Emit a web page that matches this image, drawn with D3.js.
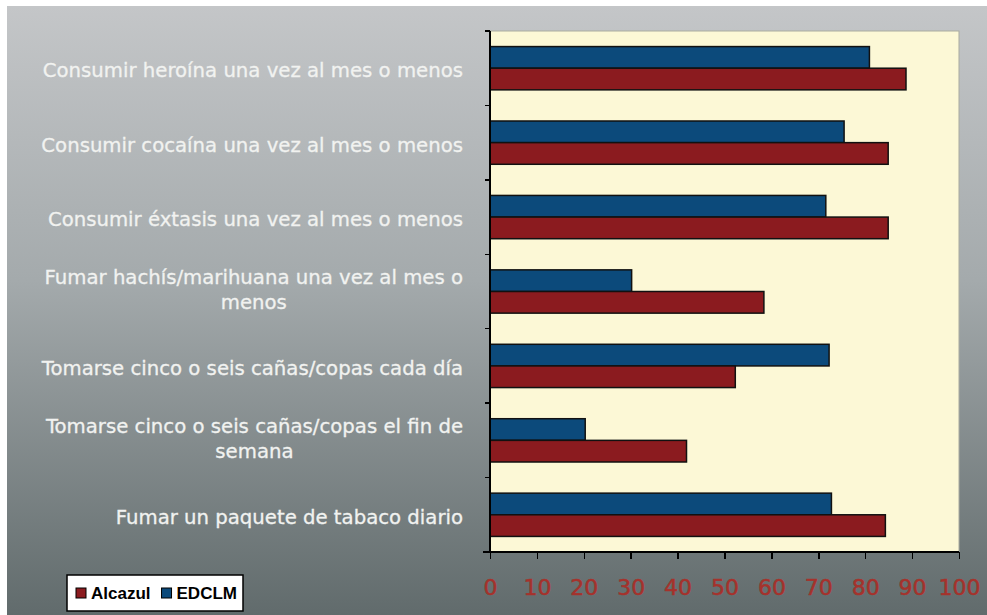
<!doctype html>
<html>
<head>
<meta charset="utf-8"/>
<style>
    html, body { margin: 0; padding: 0; background: #fff; }
    svg { display: block; }
    .cat text { font-family: "DejaVu Sans", sans-serif; font-size: 19.7px; fill: #f1f2f0; stroke: #f1f2f0; stroke-width: 0.3px; }
    .axis--x text { font-family: "DejaVu Sans", sans-serif; font-size: 22px; fill: #a5322c; stroke: #a5322c; stroke-width: 0.5px; }
    .axis path, .axis line { stroke: #000; stroke-width: 1.5; shape-rendering: crispEdges; }
    .legend text { font-family: "Liberation Sans", Arial, sans-serif; font-weight: bold; font-size: 17px; fill: #000; }
</style>
<script src="https://cdn.jsdelivr.net/npm/d3@7"></script>
</head>
<body>
<svg width="987" height="615"></svg>
<script>

var categories = [
    "Consumir heroína una vez al mes o menos",
    "Consumir cocaína una vez al mes o menos",
    "Consumir éxtasis una vez al mes o menos",
    "Fumar hachís/marihuana una vez al mes o\nmenos",
    "Tomarse cinco o seis cañas/copas cada día",
    "Tomarse cinco o seis cañas/copas el fin de\nsemana",
    "Fumar un paquete de tabaco diario"
];
var edclm   = [80.9, 75.5, 71.6, 30.2, 72.3, 20.3, 72.8];
var alcazul = [88.7, 84.9, 84.9, 58.4, 52.3, 41.9, 84.3];
var xTicks  = [0, 10, 20, 30, 40, 50, 60, 70, 80, 90, 100];
var seriesNames = ["Alcazul", "EDCLM"];
var seriesColors = { Alcazul: "#8b1b1f", EDCLM: "#0c4a7b" };

(function() {
var svg = d3.select("svg");

// background gradient
var defs = svg.append("defs");
var grad = defs.append("linearGradient").attr("id", "bg")
    .attr("x1", 0).attr("y1", 0).attr("x2", 0).attr("y2", 1);
grad.append("stop").attr("offset", "0%").attr("stop-color", "#c4c6c8");
grad.append("stop").attr("offset", "45%").attr("stop-color", "#a4aaac");
grad.append("stop").attr("offset", "100%").attr("stop-color", "#616b6c");

svg.append("rect").attr("x", 7).attr("y", 6).attr("width", 980).attr("height", 609)
    .attr("fill", "url(#bg)");

var pl = 490, pr = 959, pt = 31, pb = 552;

var x = d3.scaleLinear().domain([0, 100]).range([pl, pr]);
var y = d3.scaleBand().domain(d3.range(categories.length)).range([pt, pb]);
var inner = d3.scaleBand().domain(["EDCLM", "Alcazul"])
    .range([0, y.bandwidth()]).paddingOuter(0.72).paddingInner(0);

// plot area
svg.append("rect").attr("x", pl).attr("y", pt)
    .attr("width", pr - pl).attr("height", pb - pt)
    .attr("fill", "#fcf8d6").attr("stroke", "#a9aba0").attr("stroke-width", 1);

var g = svg.append("g");

var rows = categories.map(function(c, i) {
    return { i: i, EDCLM: edclm[i], Alcazul: alcazul[i] };
});

["EDCLM", "Alcazul"].forEach(function(s) {
    g.selectAll(".bar-" + s).data(rows).enter().append("rect")
        .attr("class", "bar-" + s)
        .attr("x", x(0))
        .attr("y", function(d) { return y(d.i) + inner(s); })
        .attr("width", function(d) { return x(d[s]) - x(0); })
        .attr("height", inner.bandwidth())
        .attr("fill", seriesColors[s])
        .attr("stroke", "#111")
        .attr("stroke-width", 1.5);
});

// y axis: ticks at band boundaries
var yEdges = d3.range(categories.length + 1).map(function(i) { return pt + i * y.step(); });
var ya = svg.append("g").attr("class", "axis axis--y");
ya.append("line").attr("x1", pl).attr("x2", pl).attr("y1", pt).attr("y2", pb);
ya.selectAll(".t").data(yEdges).enter().append("line")
    .attr("x1", pl - 5).attr("x2", pl).attr("y1", function(d) { return d; }).attr("y2", function(d) { return d; });

// x axis
var xa = svg.append("g").attr("class", "axis axis--x")
    .attr("transform", "translate(0," + pb + ")")
    .call(d3.axisBottom(x).tickValues(xTicks).tickSize(7).tickPadding(20).tickSizeOuter(0));
xa.select(".domain").attr("d", "M" + (pl - 7) + ",0H" + pr);

// category labels
var cat = svg.append("g").attr("class", "cat");
var lh = 25;
categories.forEach(function(c, i) {
    var lines = c.split("\n");
    var cy = y(i) + y.bandwidth() / 2;
    var t = cat.append("text")
        .attr("text-anchor", "end")
        .attr("x", 463)
        .attr("y", lines.length > 1 ? cy - 7.5 : cy + 9);
    lines.forEach(function(l, k) {
        t.append("tspan").attr("x", 463).attr("dy", k ? lh : 0).text(l);
    });
    if (lines.length > 1) {
        // second line centred under the first
        var w0 = t.select("tspan").node().getComputedTextLength();
        t.selectAll("tspan").filter(function(d, k) { return k > 0; })
            .attr("text-anchor", "middle").attr("x", 463 - w0 / 2);
    }
});

// legend
var lg = svg.append("g").attr("class", "legend").attr("transform", "translate(67,575)");
lg.append("rect").attr("width", 176).attr("height", 36)
    .attr("fill", "#fff").attr("stroke", "#000").attr("stroke-width", 1.5);
var lx = 9;
seriesNames.forEach(function(s) {
    lg.append("rect").attr("x", lx).attr("y", 13).attr("width", 10).attr("height", 10)
        .attr("fill", seriesColors[s]).attr("stroke", "#000").attr("stroke-width", 1);
    var tx = lg.append("text").attr("x", lx + 15).attr("y", 24).text(s);
    lx += 15 + tx.node().getComputedTextLength() + 11;
});
})();

</script>
</body>
</html>
